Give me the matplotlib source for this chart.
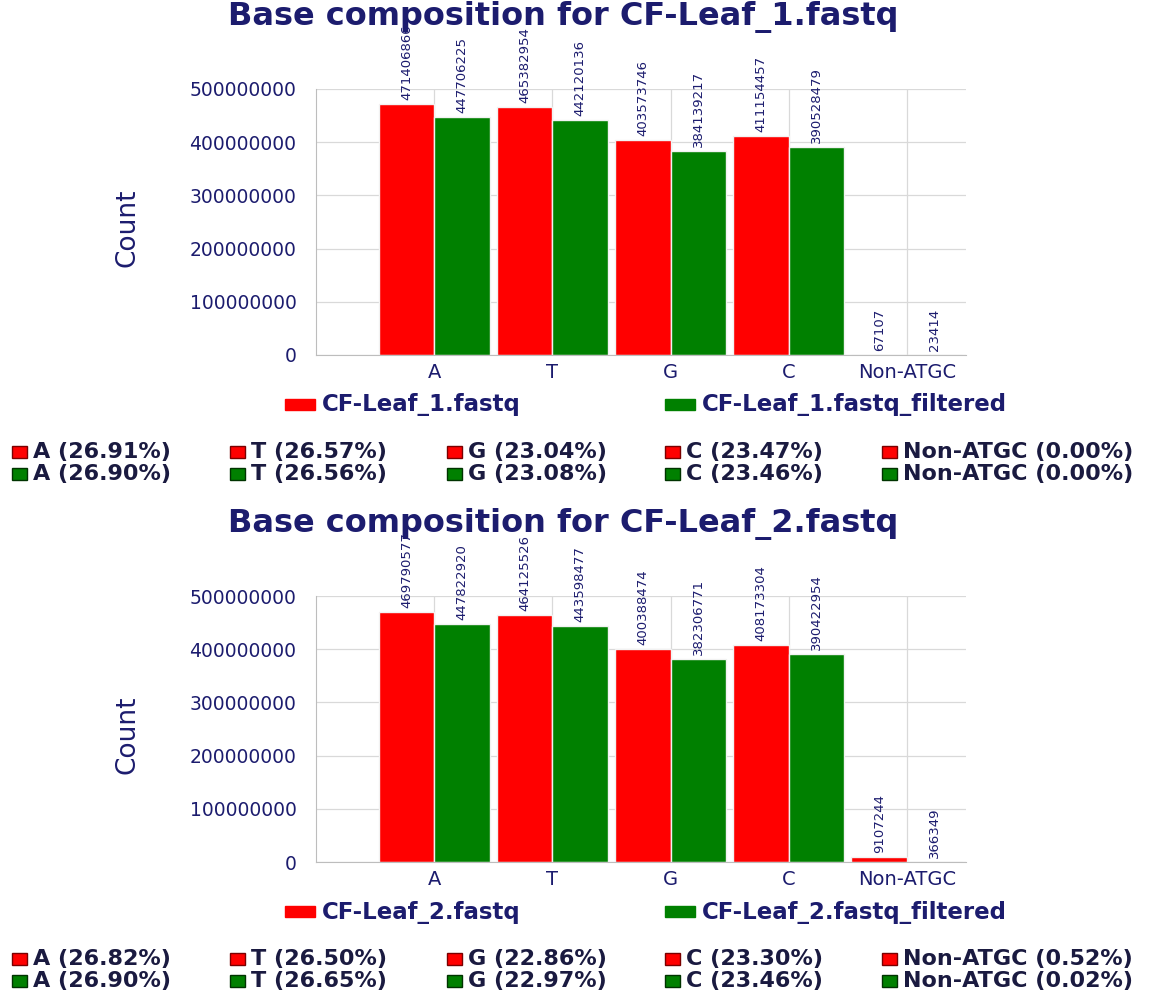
import matplotlib
matplotlib.use("Agg")
import matplotlib.pyplot as plt
from matplotlib.patches import Rectangle
import numpy as np

# ---- data ----
bases = ["A", "T", "G", "C", "Non-ATGC"]

leaf1_raw = [471406866, 465382954, 403573746, 411154457, 67107]
leaf1_filt = [447706225, 442120136, 384139217, 390528479, 23414]
leaf1_pct_raw = [26.91, 26.57, 23.04, 23.47, 0.00]
leaf1_pct_filt = [26.90, 26.56, 23.08, 23.46, 0.00]

leaf2_raw = [469790577, 464125526, 400388474, 408173304, 9107244]
leaf2_filt = [447822920, 443598477, 382306771, 390422954, 366349]
leaf2_pct_raw = [26.82, 26.50, 22.86, 23.30, 0.52]
leaf2_pct_filt = [26.90, 26.65, 22.97, 23.46, 0.02]

samples = ["CF-Leaf_1.fastq", "CF-Leaf_2.fastq"]
y_ticks = [0, 100000000, 200000000, 300000000, 400000000, 500000000]

# ---- style ----
W, H = 1160, 993
NAVY = "#1c1c6e"
DARK = "#1a1a40"
RED = "#ff0000"
GREEN = "#008000"
GRID = "#d9d9d9"

fig = plt.figure(figsize=(W / 100, H / 100), dpi=100)


def fx(px):
    return px / W


def fy(py):
    return 1 - py / H


def draw_panel(y0, name, raw, filt, pct_raw, pct_filt):
    # y0 = pixel row of the panel title
    ax = fig.add_axes([fx(316), fy(y0 + 338), (966 - 316) / W, 266 / H])
    pos = np.arange(1, len(bases) + 1)
    w = 0.47
    ax.bar(pos - w, raw, width=w, align="edge", color=RED,
           edgecolor="#f2f2f2", linewidth=1, zorder=2)
    ax.bar(pos, filt, width=w, align="edge", color=GREEN,
           edgecolor="#f2f2f2", linewidth=1, zorder=2)

    for xs, vals in ((pos - w / 2, raw), (pos + w / 2, filt)):
        for x, v in zip(xs, vals):
            ax.annotate(str(v), (x, v), xytext=(0, 4), textcoords="offset pixels",
                        rotation=90, ha="center", va="bottom", fontsize=9.5,
                        color=NAVY, annotation_clip=False, zorder=5)

    ax.set_xlim(0, 5.5)
    ax.set_ylim(0, 500000000)
    ax.set_xticks(pos, bases)
    ax.set_yticks(y_ticks, [str(t) for t in y_ticks])
    ax.grid(True, color=GRID, linewidth=0.9)
    ax.set_axisbelow(True)
    for s in ("top", "right"):
        ax.spines[s].set_visible(False)
    for s in ("left", "bottom"):
        ax.spines[s].set_color("#bdbdbd")
    ax.tick_params(axis="both", length=0, colors=NAVY)
    ax.tick_params(axis="y", pad=14, labelsize=13.5)
    ax.tick_params(axis="x", pad=6, labelsize=14)
    ax.set_ylabel("Count", fontsize=19, color=NAVY,
                  family=["Liberation Sans Narrow", "DejaVu Sans"])
    ax.yaxis.set_label_coords((140 - 316) / 650, 0.48)

    fig.text(fx(563), fy(y0), f"Base composition for {name}", ha="center",
             va="center", fontsize=23, fontweight="bold", color=NAVY, zorder=1)

    # series legend
    ly = y0 + 388
    for px, col, label in ((285, RED, name), (665, GREEN, name + "_filtered")):
        fig.patches.append(Rectangle((fx(px), fy(ly + 5)), 30 / W, 11 / H,
                                     transform=fig.transFigure, color=col))
        fig.text(fx(px + 37), fy(ly), label, ha="left", va="center",
                 fontsize=16.5, fontweight="bold", color=NAVY)

    # percentage table
    cols = [12, 230, 447, 665, 882]
    for row, (col, edge, pcts) in enumerate(((RED, "#7a0000", pct_raw),
                                            (GREEN, "#003300", pct_filt))):
        ry = y0 + 435 + row * 22
        for cx, b, p in zip(cols, bases, pcts):
            fig.patches.append(Rectangle((fx(cx), fy(ry + 6)), 15 / W, 12 / H,
                                         transform=fig.transFigure, facecolor=col,
                                         edgecolor=edge, linewidth=1))
            fig.text(fx(cx + 21), fy(ry), f"{b} ({p:.2f}%)", ha="left",
                     va="center", fontsize=16, fontweight="bold", color=DARK)


draw_panel(17, samples[0], leaf1_raw, leaf1_filt, leaf1_pct_raw, leaf1_pct_filt)
draw_panel(524, samples[1], leaf2_raw, leaf2_filt, leaf2_pct_raw, leaf2_pct_filt)

fig.savefig("out.png", dpi=100)
